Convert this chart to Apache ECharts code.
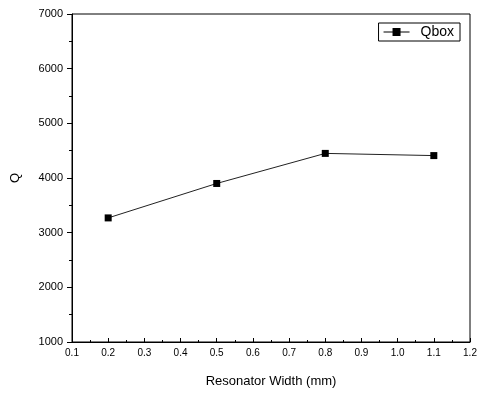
<!DOCTYPE html>
<html>
<head>
<meta charset="utf-8">
<script src="https://cdn.jsdelivr.net/npm/echarts@6/dist/echarts.min.js"></script>
<style>
  html, body { margin: 0; padding: 0; background: #fff; }
  #chart { width: 481px; height: 398px; }
</style>
</head>
<body>
<div id="chart"></div>
<script>
// data
var widths = [0.2, 0.5, 0.8, 1.1];
var qValues = [3270, 3900, 4450, 4410];
var seriesName = "Qbox";

var myChart = echarts.init(document.getElementById("chart"));
var font = "Liberation Sans, Arial, sans-serif";

var option = {
  backgroundColor: "#fff",
  animation: false,
  grid: {
    left: 72,
    right: 11,
    top: 14,
    bottom: 56,
    show: true,
    borderColor: "#000",
    borderWidth: 1,
  },
  legend: {
    right: 21,
    top: 23,
    orient: "vertical",
    borderColor: "#000",
    borderWidth: 1,
    padding: [2, 6, 2, 5],
    itemWidth: 26,
    itemHeight: 9,
    itemGap: 4,
    icon: "path://M0,4h9v1H0z M9,0.5h8v8H9z M17,4h9v1h-9z",
    textStyle: { fontFamily: font, fontSize: 14, color: "#000", padding: [0, 6, 0, 6] },
    data: [seriesName],
  },
  xAxis: {
    type: "value",
    min: 0.1,
    max: 1.2,
    interval: 0.1,
    name: "Resonator Width (mm)",
    nameLocation: "middle",
    nameGap: 33,
    nameTextStyle: { fontFamily: font, fontSize: 13, color: "#000" },
    axisLine: { lineStyle: { color: "#000", width: 1 } },
    axisTick: { inside: true, length: 4, lineStyle: { color: "#000" } },
    minorTick: { show: true, splitNumber: 2, length: 2, lineStyle: { color: "#000" } },
    splitLine: { show: false },
    axisLabel: {
      margin: 6,
      fontFamily: font,
      fontSize: 10,
      color: "#000",
      formatter: function (v) { return v.toFixed(1); },
    },
  },
  yAxis: {
    type: "value",
    min: 1000,
    max: 7000,
    interval: 1000,
    name: "Q",
    nameLocation: "middle",
    nameGap: 50,
    nameRotate: 90,
    nameTextStyle: { fontFamily: font, fontSize: 13, color: "#000" },
    axisLine: { show: true, lineStyle: { color: "#000", width: 1 } },
    axisTick: { length: 5, lineStyle: { color: "#000" } },
    minorTick: { show: true, splitNumber: 2, length: 3, lineStyle: { color: "#000" } },
    splitLine: { show: false },
    axisLabel: {
      margin: 9,
      fontFamily: font,
      fontSize: 11,
      color: "#000",
      formatter: function (v) { return String(v); },
    },
  },
  series: [
    {
      name: seriesName,
      type: "line",
      data: widths.map(function (w, i) { return [w, qValues[i]]; }),
      symbol: "rect",
      symbolSize: 7,
      lineStyle: { color: "#222", width: 1 },
      itemStyle: { color: "#000" },
    },
  ],
};
myChart.setOption(option);
</script>
</body>
</html>
